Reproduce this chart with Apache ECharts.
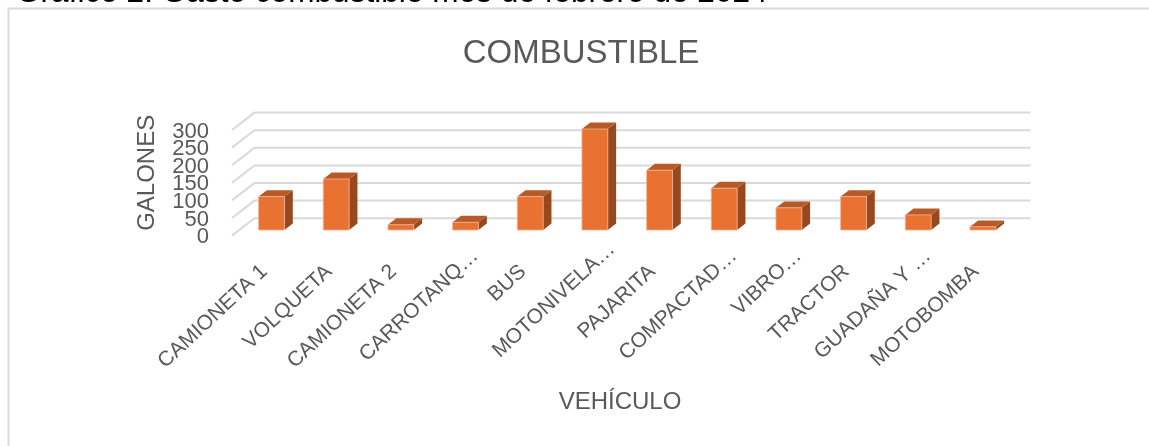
<!DOCTYPE html>
<html><head><meta charset="utf-8">
<style>html,body{margin:0;padding:0;background:#fff;overflow:hidden}#c{width:1149px;height:446px}</style>
<script src="https://cdn.jsdelivr.net/npm/echarts@6/dist/echarts.min.js"></script>
</head><body><div id="c"></div>
<script>
const categories = ['CAMIONETA 1','VOLQUETA','CAMIONETA 2','CARROTANQ…','BUS','MOTONIVELA…','PAJARITA','COMPACTAD…','VIBRO…','TRACTOR','GUADAÑA Y …','MOTOBOMBA'];
const gallons = [95,145,15,22,95,287,170,119,63,95,43,9];
const yTicks = [0,50,100,150,200,250,300];
const chartTitle = 'COMBUSTIBLE';
const yName = 'GALONES';
const xName = 'VEHÍCULO';
const caption = 'Gráfico 2: Gasto combustible mes de febrero de 2024';

const FONT = 'Liberation Sans';
const TEXT = '#595959';
const wallDx = 22.5, wallDy = -17.4;
const frontF = 0.32, backF = 0.69;

// Wall gridline plus its tick label: the labels overlap vertically in the reference,
// and ECharts' value axis would drop some of them, so they are drawn with the grid.
function gridItem(params, api) {
  const v = api.value(0);
  const p = api.coord([0, v]);
  const x0 = params.coordSys.x, x1 = x0 + params.coordSys.width;
  const y = p[1];
  return {type:'group', silent:true, children:[
    {type:'polyline',
      shape:{points:[[x0,y],[x0+wallDx,y+wallDy],[x1+wallDx,y+wallDy]]},
      style:{fill:null,stroke:'#d9d9d9',lineWidth:2}},
    {type:'text',
      style:{text:String(v),x:x0-23,y:y+1.5,align:'right',verticalAlign:'middle',
        fontFamily:FONT,fontSize:22,fill:TEXT}}
  ]};
}
function barItem(params, api) {
  const i = api.value(0), v = api.value(1);
  const top = api.coord([i, v]), base = api.coord([i, 0]);
  const w = api.size([1,0])[0] * 0.4;
  const fx = top[0] + wallDx*frontF - w/2, fdy = wallDy*frontF;
  const ty = top[1] + fdy, by = base[1] + fdy;
  const dx = wallDx*(backF-frontF), dy = wallDy*(backF-frontF);
  return {type:'group', children:[
    {type:'polygon',shape:{points:[[fx+w,ty],[fx+w+dx,ty+dy],[fx+w+dx,by+dy],[fx+w,by]]},style:{fill:'#98481E'}},
    {type:'polygon',shape:{points:[[fx,ty],[fx+dx,ty+dy],[fx+w+dx,ty+dy],[fx+w,ty]]},style:{fill:'#B65A27'}},
    {type:'rect',shape:{x:fx,y:ty,width:w,height:by-ty},style:{fill:'#E97132',stroke:'#F3B594',lineWidth:0.8}}
  ]};
}
const axisCats = categories.map(c => c.endsWith('…')
  ? {value:c,textStyle:{padding:[0,c.startsWith('MOTONIVELA') ? -33 : -23,0,0]}}
  : c);
const chart = echarts.init(document.getElementById('c'), null, {renderer:'canvas'});
chart.setOption({
  animation:false,
  backgroundColor:'#fff',
  title:{text:chartTitle,left:576,top:32,textAlign:'center',textStyle:{fontFamily:FONT,fontSize:33,fontWeight:'normal',color:TEXT}},
  grid:{left:232,top:130,width:776,height:105.6,containLabel:false},
  xAxis:{type:'category',data:axisCats,
    axisLine:{show:false},axisTick:{show:false},splitLine:{show:false},
    axisLabel:{rotate:43,interval:0,margin:33,fontFamily:FONT,fontSize:21,color:TEXT,hideOverlap:false},
    name:xName,nameLocation:'middle',nameGap:155,nameTextStyle:{fontFamily:FONT,fontSize:24,color:TEXT}},
  yAxis:{type:'value',min:0,max:300,interval:50,
    axisLine:{show:false},axisTick:{show:false},splitLine:{show:false},
    axisLabel:{show:false},
    name:yName,nameLocation:'middle',nameGap:73,nameTextStyle:{fontFamily:FONT,fontSize:24,color:TEXT,padding:[0,0,0,20]}},
  graphic:[
    {type:'polyline',silent:true,shape:{points:[[8.5,446],[8.5,8.5],[1149,8.5]]},style:{fill:null,stroke:'#d9d9d9',lineWidth:2}},
    {type:'text',silent:true,left:16,top:-23,style:{text:caption,fontFamily:FONT,fontSize:31.6,fill:'#000'}}
  ],
  series:[
    {type:'custom',coordinateSystem:'cartesian2d',renderItem:gridItem,data:yTicks.map(t=>[t]),encode:{y:0},silent:true,z:1,clip:false},
    {type:'custom',coordinateSystem:'cartesian2d',renderItem:barItem,data:gallons.map((g,i)=>[i,g]),encode:{x:0,y:1},silent:true,z:2,clip:false}
  ]
});
</script></body></html>
